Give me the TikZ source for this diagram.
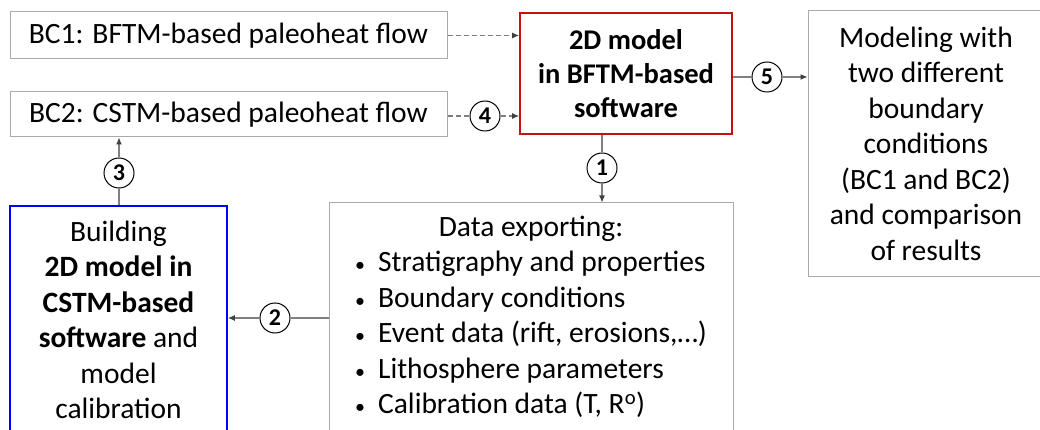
\documentclass[tikz,border=0pt]{standalone}
\usepackage{fontspec}
\setmainfont{Carlito}
\usetikzlibrary{arrows.meta}
\definecolor{boxgray}{RGB}{170,170,170}
\definecolor{linegray}{RGB}{128,128,128}
\definecolor{bftmred}{RGB}{200,16,16}
\definecolor{cstmblue}{RGB}{0,0,255}
\newcommand{\itembullet}{{\fontsize{20}{20}\selectfont\textbullet}\hspace{13pt}}

\begin{document}
\begin{tikzpicture}[x=1pt,y=-1pt,
		font=\fontsize{29.5}{35.5}\selectfont,
		box/.style={rectangle,draw=boxgray,line width=1pt,align=center,inner sep=0pt},
		redbox/.style={box,draw=bftmred,line width=1.8pt,font=\fontsize{28.5}{34}\selectfont\bfseries},
		bluebox/.style={box,draw=cstmblue,line width=1.8pt},
		num/.style={circle,draw=black,line width=1pt,minimum size=30pt,inner sep=0pt,font=\fontsize{24}{24}\selectfont\bfseries},
		conn/.style={draw=linegray,line width=1.1pt},
		dashline/.style={conn,dash pattern=on 5pt off 3pt},
		tip/.style={-{Latex[length=7pt,width=6pt,color=black!75]}}
		]
	\useasboundingbox (0,0) rectangle (1040,430);
	\node [box,minimum width=437pt,minimum height=47pt] (bcone) at (228.5,35.5) {BC1: BFTM-based paleoheat flow};
	\node [box,minimum width=437pt,minimum height=45pt] (bctwo) at (228.5,114.5) {BC2: CSTM-based paleoheat flow};
	\node [redbox,minimum width=212pt,minimum height=121pt] (bftm) at (626,73.5) {2D model\\in BFTM-based\\software};
	\node [box,minimum width=236pt,minimum height=265pt] (result) at (926,143.5) {Modeling with\\two different\\boundary\\conditions\\(BC1 and BC2)\\and comparison\\of results};
	\node [bluebox,minimum width=217pt,minimum height=228pt] (cstm) at (118.5,320) {Building\\\textbf{2D model in}\\\textbf{CSTM-based}\\\textbf{software} and\\model\\calibration};
	\node [box,minimum width=404pt,minimum height=230pt] (export) at (531,318) {%
		\begin{tabular}{@{}l@{}}
			\multicolumn{1}{@{}c@{}}{Data exporting:}\\
			\itembullet Stratigraphy and properties\\
			\itembullet Boundary conditions\\
			\itembullet Event data (rift, erosions,\dots)\\
			\itembullet Lithosphere parameters\\
			\itembullet Calibration data (T, R\textsuperscript{o})
		\end{tabular}};
	\node [num] (c1) at (602,168) {1};
	\node [num] (c2) at (275,318) {2};
	\node [num] (c3) at (119,173) {3};
	\node [num] (c4) at (485,116) {4};
	\node [num] (c5) at (767,77) {5};
	\draw [dashline,tip] (bcone.east) -- (bcone.east -| bftm.west);
	\draw [dashline,tip] (c4 -| bctwo.east) -- (c4) -- (c4 -| bftm.west);
	\draw [conn,tip] (c1 |- bftm.south) -- (c1) -- (c1 |- export.north);
	\draw [conn,tip] (c2 -| export.west) -- (c2) -- (c2 -| cstm.east);
	\draw [conn,tip] (c3 |- cstm.north) -- (c3) -- (c3 |- bctwo.south);
	\draw [conn,tip] (c5 -| bftm.east) -- (c5) -- (c5 -| result.west);
\end{tikzpicture}
\end{document}
